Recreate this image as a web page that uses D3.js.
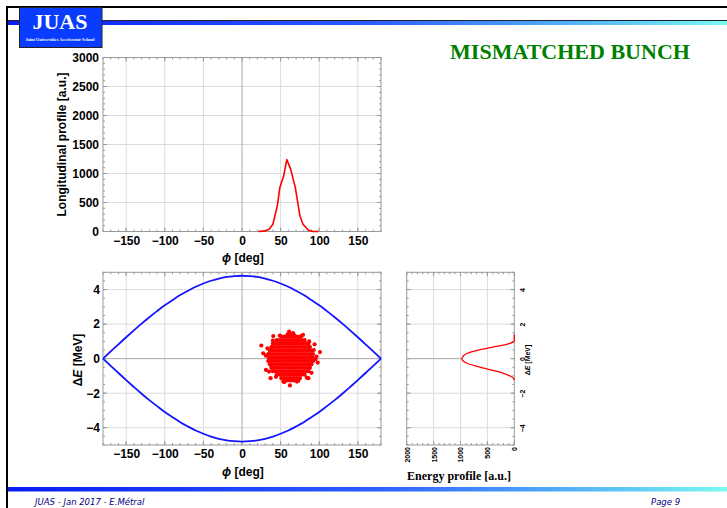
<!DOCTYPE html>
<html>
<head>
<meta charset="utf-8">
<script src="https://cdn.jsdelivr.net/npm/d3@7"></script>
<style>
  body { margin: 0; background: #fff; }
  svg { display: block; }
</style>
</head>
<body>
<div id="slide"></div>
<script>
const width = 727;
const height = 508;

// longitudinal profile (top plot)
const profilePhi = [21, 30, 35, 40, 46, 49, 54, 58, 63, 69, 75, 79, 86, 92, 99];
const profileVal = [0, 10, 40, 126, 460, 760, 960, 1240, 1075, 760, 270, 126, 23, 0, 0];

// separatrix, read every 10 deg
const sepPhi = [-180, -170, -160, -150, -140, -130, -120, -110, -100, -90, -80, -70, -60, -50, -40, -30, -20, -10, 0,
                10, 20, 30, 40, 50, 60, 70, 80, 90, 100, 110, 120, 130, 140, 150, 160, 170, 180];
const sepUpper = [0, 0.42, 0.83, 1.24, 1.64, 2.03, 2.40, 2.75, 3.09, 3.39, 3.68, 3.93, 4.16, 4.35, 4.51, 4.64, 4.73, 4.78, 4.80,
                  4.78, 4.73, 4.64, 4.51, 4.35, 4.16, 3.93, 3.68, 3.39, 3.09, 2.75, 2.40, 2.03, 1.64, 1.24, 0.83, 0.42, 0];
const sepLower = [0, -0.42, -0.83, -1.24, -1.64, -2.03, -2.40, -2.75, -3.09, -3.39, -3.68, -3.93, -4.16, -4.35, -4.51, -4.64, -4.73, -4.78, -4.80,
                  -4.78, -4.73, -4.64, -4.51, -4.35, -4.16, -3.93, -3.68, -3.39, -3.09, -2.75, -2.40, -2.03, -1.64, -1.24, -0.83, -0.42, 0];

// bunch particles: dense core read row by row, plus stray particles round the edge
const cloudRowDE = [1.40, 1.27, 1.07, 0.87, 0.67, 0.47, 0.27, 0.07, -0.13, -0.33, -0.53, -0.73, -0.93, -1.13, -1.26];
const cloudRowPhi = [
  [59, 63, 67],
  [51, 55, 59, 63, 67, 71, 75],
  [45, 49, 53, 57, 61, 65, 69, 73, 77, 81],
  [40, 43, 47, 51, 55, 59, 63, 67, 71, 75, 79, 83, 86],
  [38, 41, 45, 49, 53, 57, 61, 65, 69, 73, 77, 81, 85, 88],
  [36, 39, 43, 47, 51, 55, 59, 63, 67, 71, 75, 79, 83, 87, 90],
  [34, 37, 41, 45, 49, 53, 57, 61, 65, 69, 73, 77, 81, 85, 89, 92],
  [35, 39, 43, 47, 51, 55, 59, 63, 67, 71, 75, 79, 83, 87, 91],
  [34, 37, 41, 45, 49, 53, 57, 61, 65, 69, 73, 77, 81, 85, 89, 92],
  [36, 39, 43, 47, 51, 55, 59, 63, 67, 71, 75, 79, 83, 87, 90],
  [38, 41, 45, 49, 53, 57, 61, 65, 69, 73, 77, 81, 85, 88],
  [40, 43, 47, 51, 55, 59, 63, 67, 71, 75, 79, 83, 86],
  [45, 49, 53, 57, 61, 65, 69, 73, 77, 81],
  [51, 55, 59, 63, 67, 71, 75],
  [59, 63, 67]
];
const strayPhi = [25, 94, 101, 62, 61, 31, 98, 40.5, 77, 37, 86, 27.5, 96.5, 53.5, 71, 31, 95, 33, 93, 35, 90, 40, 87, 44, 84, 49, 79, 55, 73, 66];
const strayDE  = [0.76, 0.83, 0.38, -1.55, 1.56, -0.65, -0.23, 1.31, 1.31, -1.13, -1.13, 0.31, 0.12, -1.33, -1.33, 0.17, -0.03, 0.6, 0.5, -0.75, -0.82, 1.05, 1.0, -1.05, -1.1, 1.33, 1.38, -1.35, -1.28, 1.48];

// energy profile (right plot)
const energyDE  = [-1.25, -1.1, -1.0, -0.85, -0.71, -0.46, -0.28, -0.12, 0, 0.12, 0.3, 0.5, 0.69, 0.8, 0.89, 0.97, 1.05, 1.4];
const energyVal = [0, 25, 80, 200, 359, 669, 870, 955, 975, 955, 885, 669, 359, 180, 80, 20, 0, 0];

// tick labels
const phiTicks = [-150, -100, -50, 0, 50, 100, 150];
const profTicks = [0, 500, 1000, 1500, 2000, 2500, 3000];
const deTicks = [-4, -2, 0, 2, 4];
const energyTicks = [2000, 1500, 1000, 500, 0];

const svg = d3.select("#slide").append("svg")
    .attr("width", width)
    .attr("height", height);

// ---- slide decoration ----
const defs = svg.append("defs");
const grad = defs.append("linearGradient").attr("id", "band");
grad.append("stop").attr("offset", "0%").attr("stop-color", "#0a1cf5");
grad.append("stop").attr("offset", "50%").attr("stop-color", "#2a5cff");
grad.append("stop").attr("offset", "85%").attr("stop-color", "#5cc5f5");
grad.append("stop").attr("offset", "100%").attr("stop-color", "#7cfaf0");

svg.append("rect").attr("x", 6).attr("y", 6).attr("width", width - 6).attr("height", 2).attr("fill", "#000");
svg.append("rect").attr("x", 6).attr("y", 6).attr("width", 2).attr("height", height - 6).attr("fill", "#000");
svg.append("rect").attr("x", 8).attr("y", 20).attr("width", width - 8).attr("height", 5).attr("fill", "url(#band)");
svg.append("line").attr("x1", 8).attr("x2", width).attr("y1", 20.5).attr("y2", 20.5).attr("stroke", "#223").attr("stroke-width", 1);
svg.append("rect").attr("x", 8).attr("y", 487).attr("width", width - 8).attr("height", 4.5).attr("fill", "url(#band)");

// logo
svg.append("rect").attr("x", 19.5).attr("y", 7.5).attr("width", 82.5).attr("height", 40)
    .attr("fill", "#0a3cff").attr("stroke", "#222").attr("stroke-width", 1);
svg.append("text").attr("x", 60).attr("y", 29).attr("text-anchor", "middle")
    .attr("font-family", "Liberation Serif").attr("font-weight", "bold").attr("font-size", 22)
    .attr("fill", "#fff").text("JUAS");
svg.append("text").attr("x", 60).attr("y", 41).attr("text-anchor", "middle")
    .attr("font-family", "Liberation Serif").attr("font-weight", "bold").attr("font-size", 4.4)
    .attr("fill", "#fff").text("Joint Universities Accelerator School");

svg.append("text").attr("x", 570).attr("y", 59).attr("text-anchor", "middle")
    .attr("font-family", "Liberation Serif").attr("font-weight", "bold").attr("font-size", 22)
    .attr("fill", "#008000").text("MISMATCHED BUNCH");

svg.append("text").attr("x", 35).attr("y", 505)
    .attr("font-family", "DejaVu Sans").attr("font-style", "italic").attr("font-size", 8.5)
    .attr("fill", "#000080").text("JUAS - Jan 2017 - E.Métral");
svg.append("text").attr("x", 651).attr("y", 505)
    .attr("font-family", "DejaVu Sans").attr("font-style", "italic").attr("font-size", 8.5)
    .attr("fill", "#000080").text("Page 9");

// ---- scales ----
const xPhi = d3.scaleLinear().domain([-180, 180]).range([103, 381]);
const yProf = d3.scaleLinear().domain([0, 3000]).range([231.5, 57.5]);
const yDE = d3.scaleLinear().domain([-5, 5]).range([445, 272.3]);
const xEn = d3.scaleLinear().domain([2000, 0]).range([406.7, 514.3]);

const gridColor = "#dcdcdc";
const axisColor = "#a8a8a8";
const frameColor = "#999";
const intFmt = d3.format("d");

// grid lines, frame and small ticks on all four sides
function frame(g, x, y, xGrid, yGrid, xMajor, xMinor, yMajor, yMinor) {
    const left = d3.min(x.range()), right = d3.max(x.range());
    const top = d3.min(y.range()), bottom = d3.max(y.range());
    g.append("g").selectAll("line").data(xGrid).join("line")
        .attr("x1", d => x(d)).attr("x2", d => x(d)).attr("y1", top).attr("y2", bottom)
        .attr("stroke", gridColor);
    g.append("g").selectAll("line").data(yGrid).join("line")
        .attr("y1", d => y(d)).attr("y2", d => y(d)).attr("x1", left).attr("x2", right)
        .attr("stroke", gridColor);
    [[xMajor, 4], [xMinor, 2]].forEach(([vals, len]) => {
        const t = g.append("g").attr("stroke", frameColor);
        t.selectAll(".b").data(vals).join("line").attr("class", "b")
            .attr("x1", d => x(d)).attr("x2", d => x(d)).attr("y1", bottom).attr("y2", bottom - len);
        t.selectAll(".t").data(vals).join("line").attr("class", "t")
            .attr("x1", d => x(d)).attr("x2", d => x(d)).attr("y1", top).attr("y2", top + len);
    });
    [[yMajor, 4], [yMinor, 2]].forEach(([vals, len]) => {
        const t = g.append("g").attr("stroke", frameColor);
        t.selectAll(".l").data(vals).join("line").attr("class", "l")
            .attr("y1", d => y(d)).attr("y2", d => y(d)).attr("x1", left).attr("x2", left + len);
        t.selectAll(".r").data(vals).join("line").attr("class", "r")
            .attr("y1", d => y(d)).attr("y2", d => y(d)).attr("x1", right).attr("x2", right - len);
    });
    g.append("rect").attr("x", left).attr("y", top).attr("width", right - left).attr("height", bottom - top)
        .attr("fill", "none").attr("stroke", frameColor);
}

function styleAxis(sel, size) {
    sel.attr("font-family", "Liberation Sans").attr("font-weight", "bold").attr("font-size", size);
    sel.select(".domain").remove();
    sel.selectAll("line").remove();
    sel.selectAll("text").attr("fill", "#000");
}

const phiMinor = d3.range(-180, 181, 10);

// ---- top: longitudinal profile ----
const gTop = svg.append("g");
gTop.append("g").selectAll("line").data(phiTicks.filter(d => d !== 0)).join("line")
    .attr("x1", d => xPhi(d)).attr("x2", d => xPhi(d)).attr("y1", yProf(0)).attr("y2", yProf(3000))
    .attr("stroke", gridColor);
frame(gTop, xPhi, yProf, [], profTicks.slice(1, -1), phiTicks, phiMinor, profTicks, d3.range(0, 3001, 100));
gTop.append("line").attr("x1", xPhi(0)).attr("x2", xPhi(0)).attr("y1", yProf(0)).attr("y2", yProf(3000))
    .attr("stroke", axisColor);

gTop.append("path")
    .datum(profilePhi.map((p, i) => [p, profileVal[i]]))
    .attr("fill", "none").attr("stroke", "#ff0000").attr("stroke-width", 1.6).attr("stroke-linejoin", "round")
    .attr("d", d3.line().x(d => xPhi(d[0])).y(d => yProf(d[1])));

gTop.append("g").attr("transform", `translate(0,${yProf(0)})`)
    .call(d3.axisBottom(xPhi).tickValues(phiTicks).tickFormat(intFmt).tickSize(0).tickPadding(5))
    .call(g => styleAxis(g, 12));
gTop.append("g").attr("transform", `translate(${xPhi(-180)},0)`)
    .call(d3.axisLeft(yProf).tickValues(profTicks).tickFormat(intFmt).tickSize(0).tickPadding(4))
    .call(g => styleAxis(g, 12));

gTop.append("text").attr("transform", "translate(66,144.5) rotate(-90)").attr("text-anchor", "middle")
    .attr("font-family", "Liberation Sans").attr("font-weight", "bold").attr("font-size", 12)
    .text("Longitudinal profile [a.u.]");
const phiLabelTop = gTop.append("text").attr("x", 243).attr("y", 262).attr("text-anchor", "middle")
    .attr("font-family", "Liberation Sans").attr("font-weight", "bold").attr("font-size", 12);
phiLabelTop.append("tspan").attr("font-style", "italic").text("ϕ");
phiLabelTop.append("tspan").text(" [deg]");

// ---- bottom left: phase space ----
const gPh = svg.append("g");
frame(gPh, xPhi, yDE, phiTicks.filter(d => d !== 0), deTicks.filter(d => d !== 0),
      phiTicks, phiMinor, deTicks, d3.range(-5, 5.01, 0.5));
gPh.append("line").attr("x1", xPhi(0)).attr("x2", xPhi(0)).attr("y1", yDE(-5)).attr("y2", yDE(5))
    .attr("stroke", axisColor);
gPh.append("line").attr("x1", xPhi(-180)).attr("x2", xPhi(180)).attr("y1", yDE(0)).attr("y2", yDE(0))
    .attr("stroke", axisColor);

const sepLine = d3.line().x(d => xPhi(d[0])).y(d => yDE(d[1])).curve(d3.curveCatmullRom);
[sepUpper, sepLower].forEach(branch => {
    gPh.append("path")
        .datum(sepPhi.map((p, i) => [p, branch[i]]))
        .attr("fill", "none").attr("stroke", "#1414ff").attr("stroke-width", 1.8)
        .attr("d", sepLine);
});

const particles = [];
cloudRowDE.forEach((de, r) => cloudRowPhi[r].forEach(p => particles.push([p, de])));
strayPhi.forEach((p, i) => particles.push([p, strayDE[i]]));
gPh.append("g").selectAll("circle").data(particles).join("circle")
    .attr("cx", d => xPhi(d[0])).attr("cy", d => yDE(d[1])).attr("r", 2.1)
    .attr("fill", "#ff0000");

gPh.append("g").attr("transform", `translate(0,${yDE(-5)})`)
    .call(d3.axisBottom(xPhi).tickValues(phiTicks).tickFormat(intFmt).tickSize(0).tickPadding(4))
    .call(g => styleAxis(g, 12));
gPh.append("g").attr("transform", `translate(${xPhi(-180)},0)`)
    .call(d3.axisLeft(yDE).tickValues(deTicks).tickFormat(intFmt).tickSize(0).tickPadding(3))
    .call(g => styleAxis(g, 12));

const deLabel = gPh.append("text").attr("transform", "translate(81.5,360) rotate(-90)").attr("text-anchor", "middle")
    .attr("font-family", "Liberation Sans").attr("font-weight", "bold").attr("font-size", 12);
deLabel.append("tspan").text("Δ");
deLabel.append("tspan").attr("font-style", "italic").text("E");
deLabel.append("tspan").text(" [MeV]");
const phiLabelBot = gPh.append("text").attr("x", 243).attr("y", 476).attr("text-anchor", "middle")
    .attr("font-family", "Liberation Sans").attr("font-weight", "bold").attr("font-size", 12);
phiLabelBot.append("tspan").attr("font-style", "italic").text("ϕ");
phiLabelBot.append("tspan").text(" [deg]");

// ---- right: energy profile (rotated plot) ----
const gEn = svg.append("g");
frame(gEn, xEn, yDE, [1500, 1000, 500], deTicks.filter(d => d !== 0),
      energyTicks, d3.range(0, 2001, 100), deTicks, d3.range(-5, 5.01, 0.5));
gEn.append("line").attr("x1", xEn(2000)).attr("x2", xEn(d3.max(energyVal))).attr("y1", yDE(0)).attr("y2", yDE(0))
    .attr("stroke", axisColor);

gEn.append("path")
    .datum(energyDE.map((e, i) => [energyVal[i], e]))
    .attr("fill", "none").attr("stroke", "#ff0000").attr("stroke-width", 1.3)
    .attr("d", d3.line().x(d => xEn(d[0])).y(d => yDE(d[1])).curve(d3.curveMonotoneY));

gEn.append("g").attr("transform", `translate(0,${yDE(-5)})`)
    .call(d3.axisBottom(xEn).tickValues(energyTicks).tickFormat(intFmt).tickSize(0))
    .call(g => styleAxis(g, 7))
    .call(g => g.selectAll("text")
        .attr("transform", "rotate(-90)").attr("text-anchor", "end")
        .attr("x", -2).attr("y", 0).attr("dy", "0.35em"));
gEn.append("g").attr("transform", `translate(${xEn(0)},0)`)
    .call(d3.axisRight(yDE).tickValues(deTicks).tickFormat(intFmt).tickSize(0))
    .call(g => styleAxis(g, 7))
    .call(g => g.selectAll("text")
        .attr("transform", "rotate(-90)").attr("text-anchor", "middle")
        .attr("x", 0).attr("y", 8).attr("dy", "0.35em"));

const deLabelR = gEn.append("text").attr("transform", "translate(530,360) rotate(-90)").attr("text-anchor", "middle")
    .attr("font-family", "Liberation Sans").attr("font-weight", "bold").attr("font-size", 7);
deLabelR.append("tspan").text("Δ");
deLabelR.append("tspan").attr("font-style", "italic").text("E");
deLabelR.append("tspan").text(" [MeV]");

gEn.append("text").attr("x", 459).attr("y", 479.5).attr("text-anchor", "middle")
    .attr("font-family", "Liberation Serif").attr("font-weight", "bold").attr("font-size", 12)
    .text("Energy profile [a.u.]");
</script>
</body>
</html>
